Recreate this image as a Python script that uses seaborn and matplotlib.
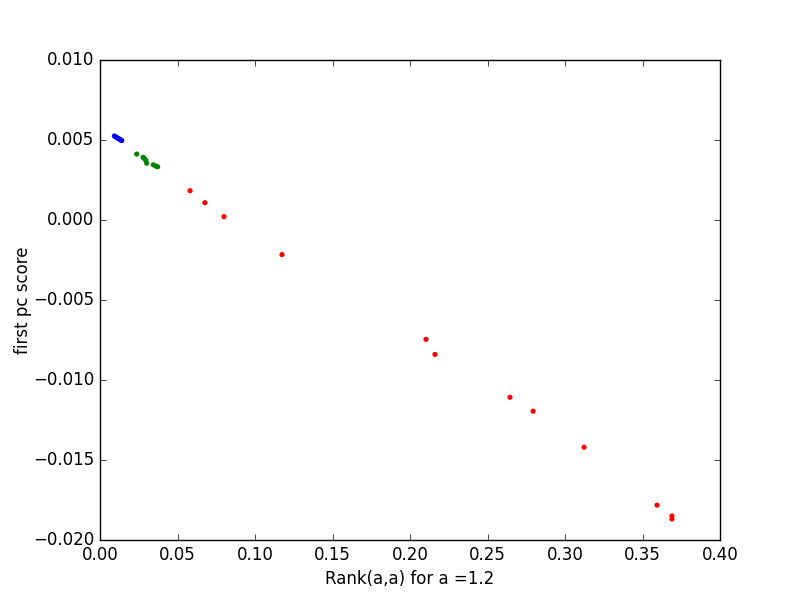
import matplotlib
matplotlib.use('Agg')
import matplotlib.pyplot as plt
import seaborn as sns
import pandas as pd

# rank values and first principal component scores, per group
blue_x = [0.0093, 0.0101, 0.0109, 0.0117, 0.0125, 0.0133, 0.0140]
blue_y = [0.00525, 0.00520, 0.00515, 0.00510, 0.00505, 0.00500, 0.00497]

green_x = [0.0237, 0.0278, 0.0285, 0.0295, 0.0301, 0.0344, 0.0360, 0.0372]
green_y = [0.00412, 0.00392, 0.00385, 0.00374, 0.00355, 0.00345, 0.00337, 0.00333]

red_x = [0.0581, 0.0677, 0.0800, 0.1174, 0.2103, 0.2161, 0.2645, 0.2794,
         0.3123, 0.3594, 0.3690, 0.3690]
red_y = [0.00183, 0.00108, 0.00021, -0.00216, -0.00746, -0.00840, -0.01108,
         -0.01195, -0.01420, -0.01782, -0.01850, -0.01869]

df = pd.DataFrame({
    'rank': blue_x + green_x + red_x,
    'score': blue_y + green_y + red_y,
    'group': ['b'] * len(blue_x) + ['g'] * len(green_x) + ['r'] * len(red_x),
})

plt.style.use('classic')
fig, ax = plt.subplots(figsize=(8, 6))
fig.patch.set_facecolor('white')

sns.scatterplot(data=df, x='rank', y='score', hue='group',
                palette={'b': '#0000ff', 'g': '#008000', 'r': '#ff0000'},
                s=14, linewidth=0, legend=False, ax=ax)

ax.set_xlim(0, 0.40)
ax.set_ylim(-0.020, 0.010)
ax.set_xticks([0.0, 0.05, 0.10, 0.15, 0.20, 0.25, 0.30, 0.35, 0.40])
ax.set_yticks([-0.020, -0.015, -0.010, -0.005, 0.0, 0.005, 0.010])
ax.set_xticklabels(['0.00', '0.05', '0.10', '0.15', '0.20', '0.25', '0.30', '0.35', '0.40'])
ax.set_yticklabels(['\u22120.020', '\u22120.015', '\u22120.010', '\u22120.005', '0.000', '0.005', '0.010'])
ax.set_xlabel('Rank(a,a) for a =1.2')
ax.set_ylabel('first pc score', labelpad=1)

fig.savefig('out.png', dpi=100, facecolor='white')
